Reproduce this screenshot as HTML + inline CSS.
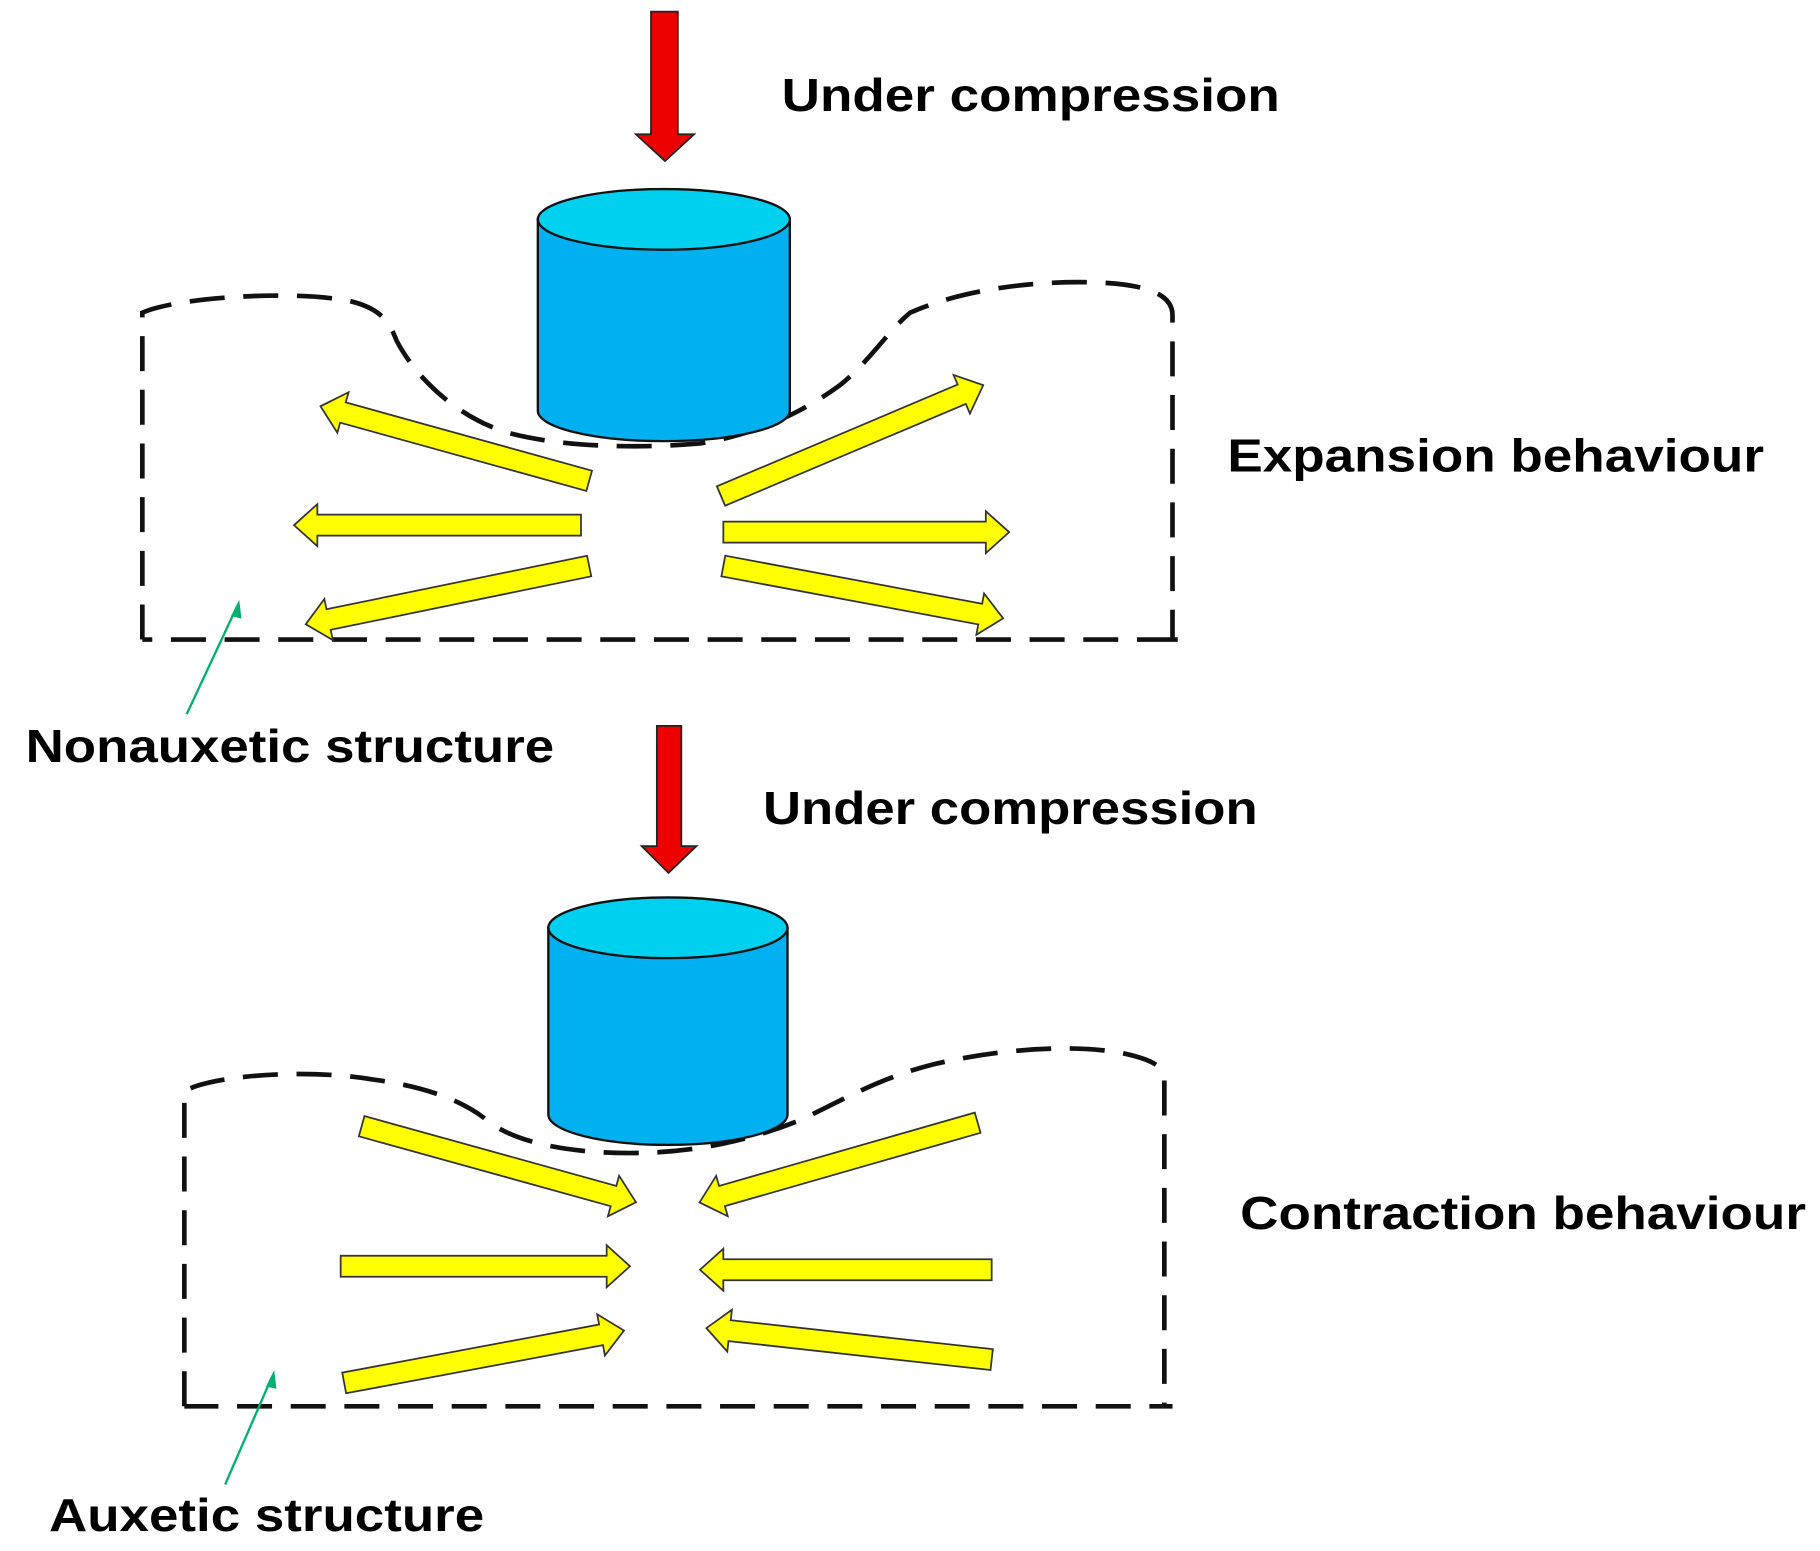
<!DOCTYPE html>
<html><head><meta charset="utf-8"><style>
html,body{margin:0;padding:0;background:#fff;}
svg{display:block;}
text{font-family:"Liberation Sans",sans-serif;font-weight:bold;fill:#000;}
</style></head><body>
<svg width="1820" height="1551" viewBox="0 0 1560 1329" preserveAspectRatio="none" xmlns="http://www.w3.org/2000/svg">
<rect width="1560" height="1329" fill="#fff"/>
<!-- top red arrow -->
<polygon points="558,10 581,10 581,115 595,115 570,138 545,115 558,115" fill="#ee0000" stroke="#222" stroke-width="1.5"/>
<text x="670" y="95" font-size="40" textLength="427" lengthAdjust="spacingAndGlyphs">Under compression</text>
<!-- dashed outline 1 -->
<path d="M122,548 L122,268 C150,255 250,248 300,258 C330,265 335,280 340,292 C360,330 400,362 440,372 C480,382 540,385 600,380 C650,372 690,352 720,330 C745,310 760,285 780,268 C820,250 880,240 940,242 C990,244 1005,255 1005,270 L1005,548 L1015,548 L122,548" fill="none" stroke="#111" stroke-width="4" stroke-dasharray="30,16"/>
<!-- cylinder 1 -->
<path d="M461,188 L461,352 A108,26 0 0 0 677,352 L677,188 Z" fill="#00b0f0" stroke="#111" stroke-width="2"/>
<ellipse cx="569" cy="188" rx="108" ry="26" fill="#00d0f0" stroke="#111" stroke-width="2"/>
<!-- yellow arrows top -->
<g fill="#ffff00" stroke="#333" stroke-width="1.5">
<polygon transform="translate(505,412) rotate(195.5)" points="0,-9 219,-9 219,-18 239,0 219,18 219,9 0,9"/>
<polygon transform="translate(498,450) rotate(180)" points="0,-9 226,-9 226,-18 246,0 226,18 226,9 0,9"/>
<polygon transform="translate(505,485) rotate(168.4)" points="0,-9 228,-9 228,-18 248,0 228,18 228,9 0,9"/>
<polygon transform="translate(618,425) rotate(-22.9)" points="0,-9 224,-9 224,-18 244,0 224,18 224,9 0,9"/>
<polygon transform="translate(620,456) rotate(0)" points="0,-9 225,-9 225,-18 245,0 225,18 225,9 0,9"/>
<polygon transform="translate(620,485) rotate(10.6)" points="0,-9 224,-9 224,-18 244,0 224,18 224,9 0,9"/>
</g>
<!-- green arrow 1 -->
<line x1="160" y1="612" x2="203" y2="520" stroke="#00b070" stroke-width="2"/>
<polygon points="205,514 198,528 207,530" fill="#00b070"/>
<text x="22" y="653" font-size="40" textLength="453" lengthAdjust="spacingAndGlyphs">Nonauxetic structure</text>
<text x="1052" y="404" font-size="40" textLength="460" lengthAdjust="spacingAndGlyphs">Expansion behaviour</text>

<!-- bottom red arrow -->
<polygon points="563,622 584,622 584,725 597,725 573,748 550,725 563,725" fill="#ee0000" stroke="#222" stroke-width="1.5"/>
<text x="654" y="706" font-size="40" textLength="424" lengthAdjust="spacingAndGlyphs">Under compression</text>
<!-- dashed outline 2 -->
<path d="M158,1205 L158,935 C180,922 260,915 320,925 C370,932 400,945 420,962 C445,980 490,988 540,988 C600,988 650,975 690,958 C730,938 760,922 800,912 C860,898 920,895 960,902 C990,908 998,915 998,925 L998,1205 L1005,1205 L158,1205" fill="none" stroke="#111" stroke-width="4" stroke-dasharray="30,16"/>
<!-- cylinder 2 -->
<path d="M470,795 L470,955 A102.5,26 0 0 0 675,955 L675,795 Z" fill="#00b0f0" stroke="#111" stroke-width="2"/>
<ellipse cx="572.5" cy="795" rx="102.5" ry="26" fill="#00d0f0" stroke="#111" stroke-width="2"/>
<!-- yellow arrows bottom -->
<g fill="#ffff00" stroke="#333" stroke-width="1.5">
<polygon transform="translate(310,965) rotate(15.5)" points="0,-9 224,-9 224,-18 244,0 224,18 224,9 0,9"/>
<polygon transform="translate(292,1085) rotate(0)" points="0,-9 228,-9 228,-18 248,0 228,18 228,9 0,9"/>
<polygon transform="translate(295,1185) rotate(-10.6)" points="0,-9 224,-9 224,-18 244,0 224,18 224,9 0,9"/>
<polygon transform="translate(838,962) rotate(164)" points="0,-9 228,-9 228,-18 248,0 228,18 228,9 0,9"/>
<polygon transform="translate(850,1088) rotate(180)" points="0,-9 230,-9 230,-18 250,0 230,18 230,9 0,9"/>
<polygon transform="translate(850,1165) rotate(186.3)" points="0,-9 226,-9 226,-18 246,0 226,18 226,9 0,9"/>
</g>
<!-- green arrow 2 -->
<line x1="193" y1="1272" x2="233" y2="1180" stroke="#00b070" stroke-width="2"/>
<polygon points="235,1174 228,1188 237,1190" fill="#00b070"/>
<text x="1063" y="1053" font-size="40" textLength="485" lengthAdjust="spacingAndGlyphs">Contraction behaviour</text>
<text x="42" y="1312" font-size="40" textLength="373" lengthAdjust="spacingAndGlyphs">Auxetic structure</text>
</svg>
</body></html>
